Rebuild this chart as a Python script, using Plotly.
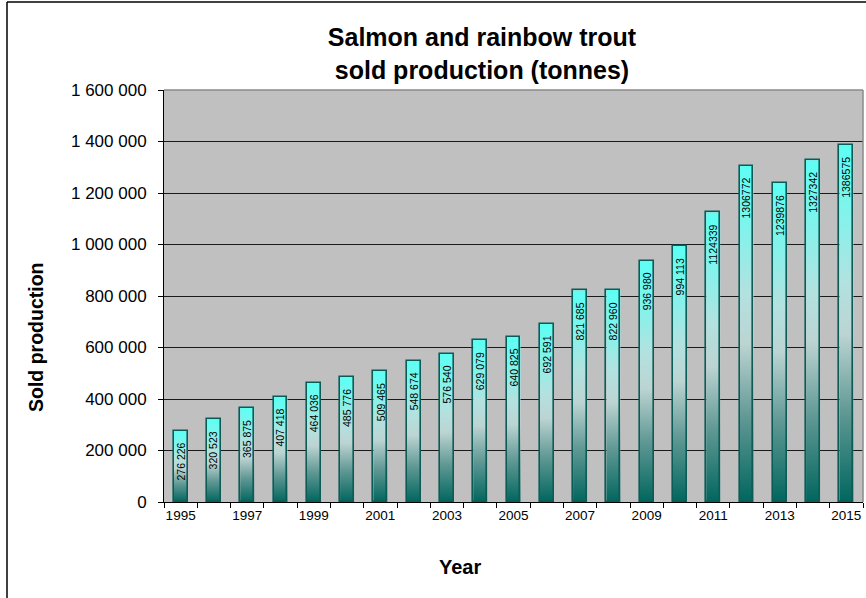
import plotly.graph_objects as go

# Sold production of salmon and rainbow trout, tonnes
years = list(range(1995, 2016))
production = [276226, 320523, 365875, 407418, 464036, 485776, 509465, 548674,
              576540, 629079, 640825, 692591, 821685, 822960, 936980, 994113,
              1124339, 1306772, 1239876, 1327342, 1386575]
value_labels = ["276 226", "320 523", "365 875", "407 418", "464 036", "485 776",
                "509 465", "548 674", "576 540", "629 079", "640 825", "692 591",
                "821 685", "822 960", "936 980", "994 113", "1124339", "1306772",
                "1239876", "1327342", "1386575"]
year_ticks = list(range(1995, 2016, 2))
y_ticks = list(range(0, 1600001, 200000))

FONT = "Arial, 'Liberation Sans', sans-serif"
BAR_WIDTH = 0.42
X_RANGE = [1994.5, 2015.5]
Y_RANGE = [0, 1600000]

# plot area in pixels (used to place frame lines and axis titles)
W, H = 866, 598
L, R, T, B = 164, 3, 90, 96
PW, PH = W - L - R, H - T - B


def px_to_paper(px, py):
    return (px - L) / PW, (H - B - py) / PH


# vertical gradient of each bar, bottom (0) to top (1)
bar_gradient = [[0.0, "rgb(0,102,94)"], [0.25, "rgb(96,152,148)"],
                [0.47, "rgb(188,212,210)"], [0.62, "rgb(178,226,224)"],
                [0.85, "rgb(120,246,238)"], [1.0, "rgb(92,255,244)"]]

fig = go.Figure()

# gradient fill of each bar, spanning the bar's own height
half = BAR_WIDTH / 2
for yr, v in zip(years, production):
    fig.add_trace(go.Scatter(
        x=[yr - half, yr + half, yr + half, yr - half, yr - half],
        y=[0, 0, v, v, 0], mode="lines", line=dict(width=0),
        fill="toself",
        fillgradient=dict(type="vertical", colorscale=bar_gradient,
                          start=0, stop=v),
        hoverinfo="skip", showlegend=False))

# the bars themselves (outline), on an overlaid copy of the axes so they sit on top
fig.add_trace(go.Bar(
    x=years, y=production, width=BAR_WIDTH, xaxis="x2", yaxis="y2",
    marker=dict(color="rgba(0,0,0,0)", line=dict(color="#0b5c57", width=1.6)),
    showlegend=False, name="Sold production"))

# value labels written vertically just below each bar top
annotations = []
for yr, v, lab in zip(years, production, value_labels):
    annotations.append(dict(
        x=yr, y=v, xref="x", yref="y", text=lab, showarrow=False,
        textangle=-90, yanchor="top", xanchor="center", yshift=-10,
        font=dict(family=FONT, size=10.5, color="#000000")))

# axis titles
ax, ay = px_to_paper(36, 338)
annotations.append(dict(
    x=ax, y=ay, xref="paper", yref="paper", text="<b>Sold production</b>",
    showarrow=False, textangle=-90, xanchor="center", yanchor="middle",
    font=dict(family=FONT, size=19.5, color="#000000")))
bx, by = px_to_paper(460, 567)
annotations.append(dict(
    x=bx, y=by, xref="paper", yref="paper", text="<b>Year</b>",
    showarrow=False, xanchor="center", yanchor="middle",
    font=dict(family=FONT, size=20, color="#000000")))

fx0, fy0 = px_to_paper(7, 2)
fx1, fy1 = px_to_paper(870, 600)

fig.update_layout(
    width=W, height=H,
    margin=dict(l=L, r=R, t=T, b=B),
    paper_bgcolor="#ffffff", plot_bgcolor="#c0c0c0",
    barmode="overlay", bargap=0,
    separators=". ",
    font=dict(family=FONT, color="#000000"),
    title=dict(text="<b>Salmon and rainbow trout<br>sold production (tonnes)</b>",
               x=482 / W, xref="container", xanchor="center",
               y=1 - 46 / H, yref="container", yanchor="middle",
               font=dict(family=FONT, size=25, color="#000000")),
    annotations=annotations,
    xaxis2=dict(overlaying="x", range=X_RANGE, visible=False),
    yaxis2=dict(overlaying="y", range=Y_RANGE, visible=False),
    shapes=[
        # outer chart frame
        dict(type="line", xref="paper", yref="paper", x0=fx0, x1=fx0,
             y0=fy0, y1=fy1, line=dict(color="#000000", width=1.5)),
        dict(type="line", xref="paper", yref="paper", x0=fx0, x1=fx1,
             y0=fy0, y1=fy0, line=dict(color="#000000", width=1.5)),
        # plot area border (top and right)
        dict(type="line", xref="paper", yref="paper", x0=0, x1=1, y0=1, y1=1,
             line=dict(color="#8a8a8a", width=1.5)),
        dict(type="line", xref="paper", yref="paper", x0=1, x1=1, y0=0, y1=1,
             line=dict(color="#8a8a8a", width=1.5)),
    ],
)

fig.update_layout(xaxis=dict(
    range=X_RANGE, tickmode="array", tickvals=year_ticks,
    ticktext=[str(y) for y in year_ticks],
    ticks="outside", ticklen=1, tickcolor="rgba(0,0,0,0)",
    minor=dict(tick0=1994.5, dtick=1, ticks="outside", ticklen=5,
               tickcolor="#000000", showgrid=False),
    showline=True, linecolor="#000000", linewidth=1,
    showgrid=False, zeroline=False,
    tickfont=dict(family=FONT, size=13.5, color="#000000"),
))

fig.update_layout(yaxis=dict(
    range=Y_RANGE, tickmode="array", tickvals=y_ticks,
    tickformat=",d", ticks="outside", ticklen=5, tickcolor="#000000",
    ticklabelstandoff=8,
    showline=True, linecolor="#000000", linewidth=1,
    showgrid=True, gridcolor="#1a1a1a", gridwidth=1, zeroline=False,
    tickfont=dict(family=FONT, size=17, color="#000000"),
))

fig.write_html("out.html")
